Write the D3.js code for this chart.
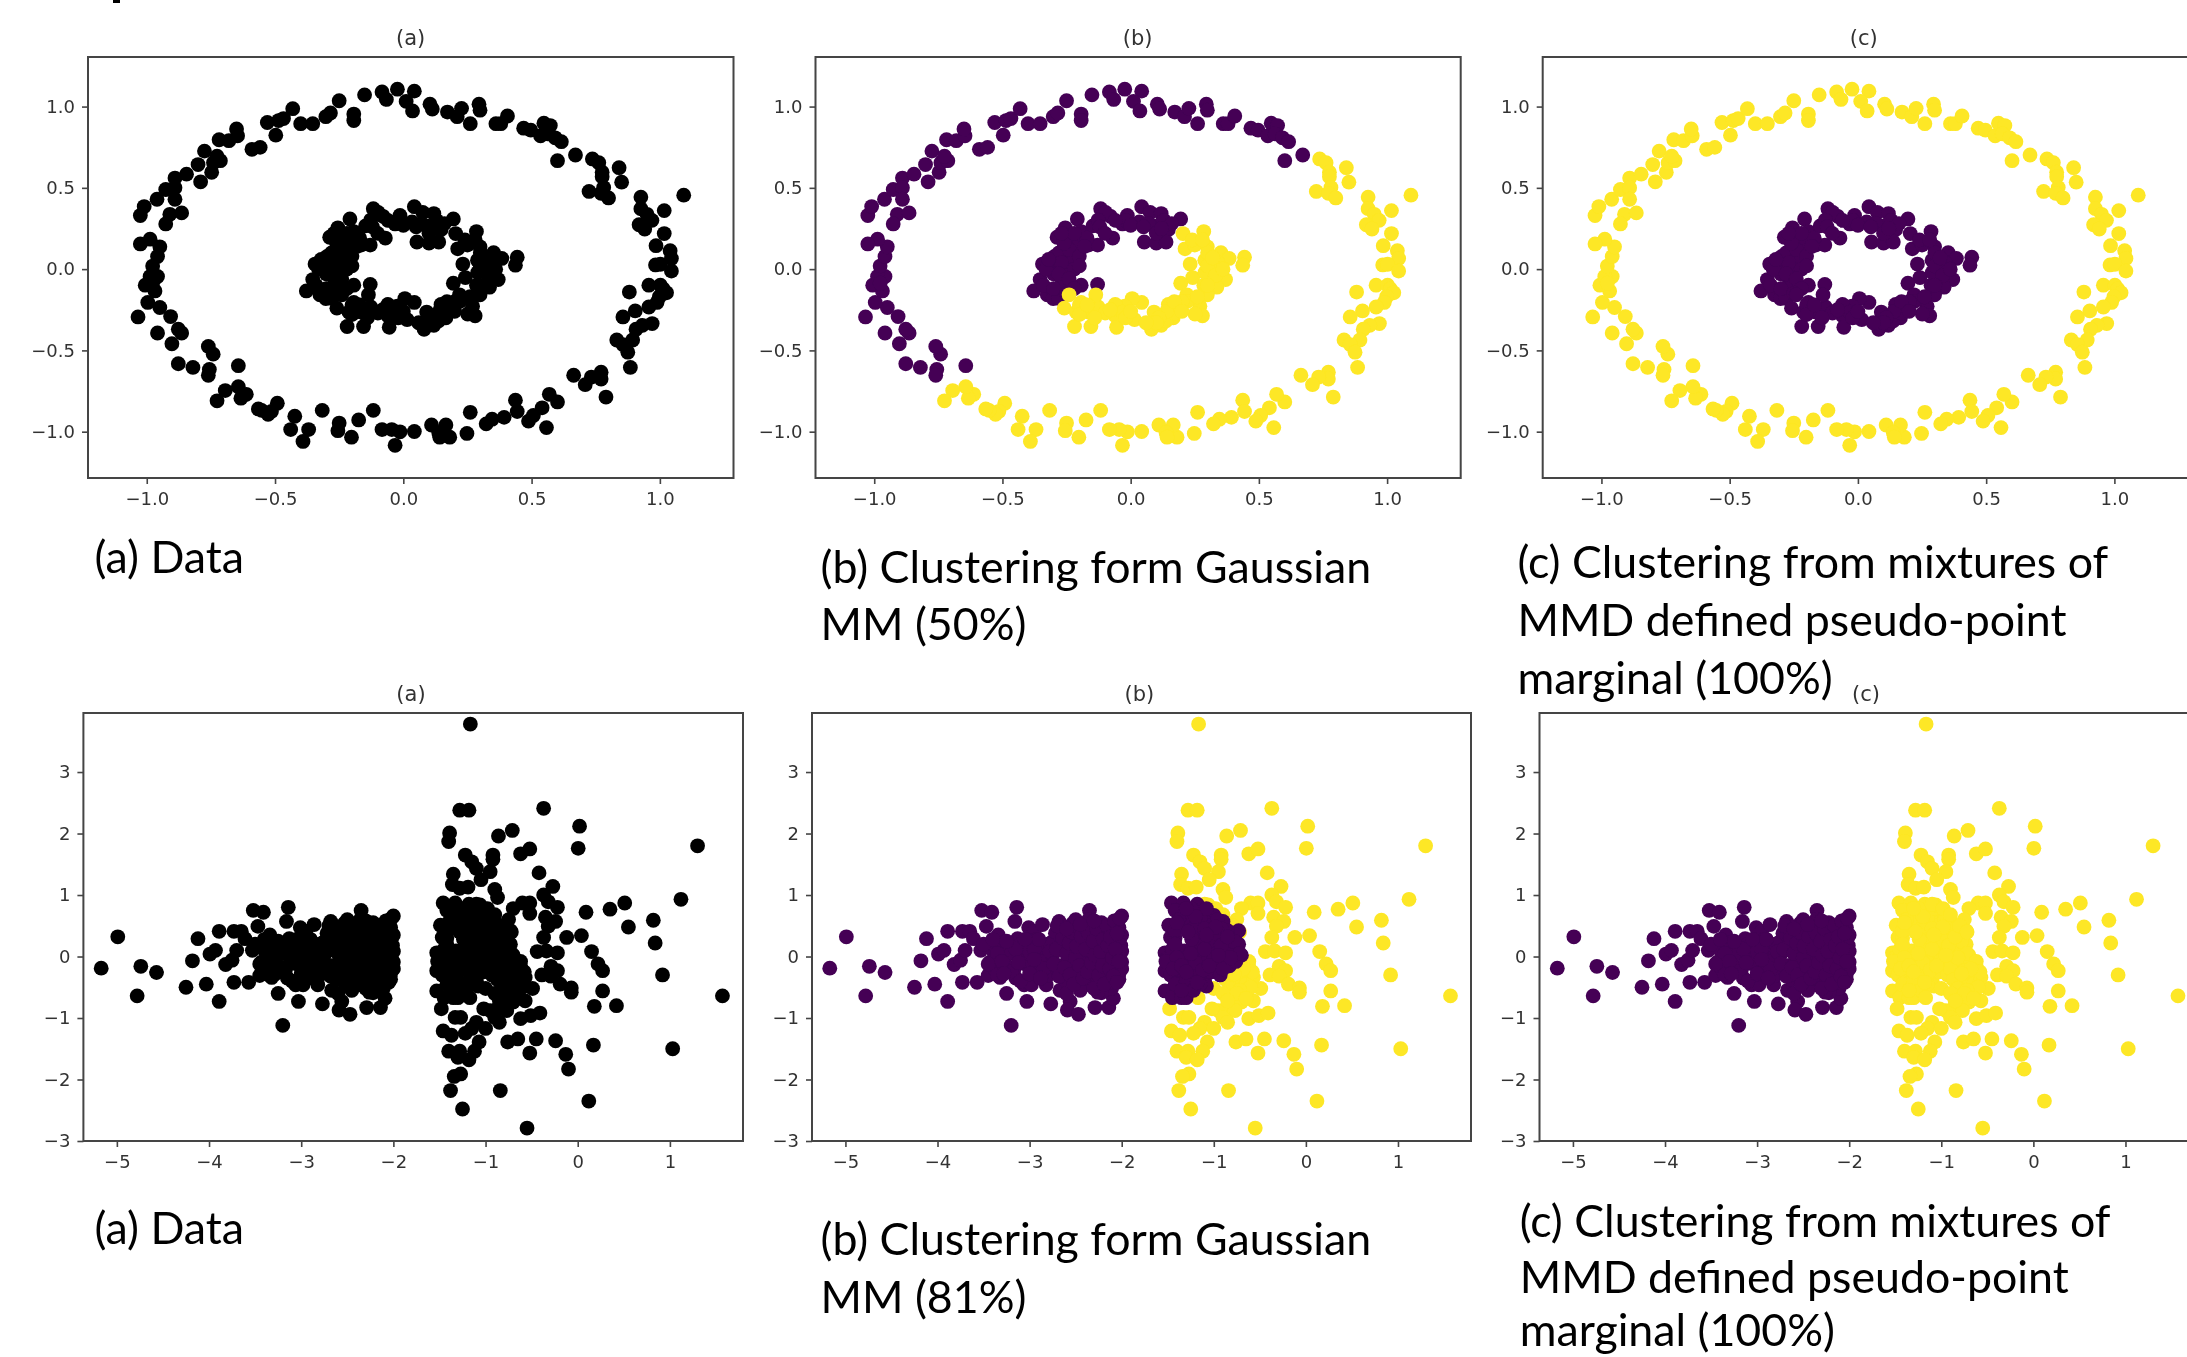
<!DOCTYPE html>
<html>
<head>
<meta charset="utf-8">
<script src="https://cdn.jsdelivr.net/npm/d3@7"></script>
<style>
	html, body { margin: 0; padding: 0; background: #fff; overflow: hidden; }
	.caption { font-family: Lato, sans-serif; font-size: 44.7px; fill: #000; }
	.panel text { font-family: "DejaVu Sans", sans-serif; font-size: 18px; fill: #333; }
	.panel text.title { font-size: 21px; }
</style>
</head>
<body>
<svg id="chart" width="2187" height="1357"></svg>
<script>
// two rings, split the way the gaussian mixture split them in panel (b)
const ringOuterPurple = [[-1.025,.33],[-1.01,.385],[-.96,.43],[-.926,.49],[-.89,.56],[-.89,.50],[-.89,.43],[-.91,.337],[-.864,.346],[-.926,.278],[-.845,.584],[-.79,.537],[-.80,.643],[-.775,.726],[-.747,.596],[-.74,.655],[-.713,.667],[-.726,.695],[-.718,.796],[-.68,.79],[-.646,.82],[-.65,.862],[-.59,.737],[-.558,.749],[-.497,.824],[-.53,.902],[-.486,.914],[-.467,.926],[-.431,.987],[-.40,.895],[-.353,.895],[-.302,.938],[-.284,.961],[-.25,1.036],[-.193,.954],[-.193,.914],[-.151,1.072],[-.083,1.09],[-.066,1.044],[-.023,1.107],[.043,1.095],[.011,1.032],[.036,.973],[.104,1.015],[.113,.985],[.172,.966],[.21,.938],[.227,.989],[.261,.895],[.295,1.015],[.299,.978],[.361,.895],[.38,.895],[.406,.942],[.469,.867],[.497,.855],[.535,.82],[.548,.898],[.573,.883],[.563,.832],[.592,.808],[.616,.784],[.601,.667],[.671,.702],
	[-.643,-.594],[-.756,-.617],[-.76,-.653],[-.741,-.523],[-.76,-.476],[-.82,-.605],[-.877,-.582],[-.902,-.459],[-.864,-.393],[-.877,-.37],[-.958,-.393],[-.907,-.292],[-.949,-.236],[-1.034,-.294],[-.996,-.205],[-.968,-.134],[-1.006,-.099],[-.958,-.045],[-.987,-.045],[-.977,.019],[-.958,.078],[-.949,.137],[-.987,.184],[-1.025,.155],[-.977,-.087]];
const ringOuterYellow = [[.737,.678],[.762,.655],[.775,.596],[.775,.568],[.841,.624],[.851,.535],[.781,.502],[.724,.478],[.771,.466],[.80,.438],[.926,.443],[1.093,.455],[.926,.372],[.95,.337],[.969,.30],[1.017,.36],[.919,.273],[.941,.247],[1.017,.219],[.985,.144],[1.04,.113],[1.045,.066],[.983,.026],[1.002,.03],[1.045,-.012],[.957,-.099],[.881,-.141],[1.002,-.099],[1.013,-.122],[1.026,-.146],[.998,-.17],[.989,-.205],[.957,-.233],[.904,-.257],[.856,-.294],[.97,-.335],[.932,-.346],[.907,-.37],[.894,-.436],[.832,-.436],[.856,-.464],[.875,-.511],[.885,-.605],[.664,-.653],[.771,-.634],[.771,-.676],[.733,-.664],[.709,-.711],[.79,-.787],[.601,-.817],[.569,-.77],[.541,-.853],[.558,-.975],[.437,-.806],[.444,-.876],[.507,-.90],[.488,-.935],[.393,-.912],[.346,-.923],[.323,-.952],[.261,-.881],[.248,-1.011],[.181,-1.034],[.166,-.959],[.11,-.959],[.138,-1.006],[.142,-1.034],[.043,-.999],[-.013,-1.001],[-.045,-.987],[-.083,-.987],[-.032,-1.084],[-.117,-.869],[-.174,-.928],[-.202,-1.034],[-.25,-.947],[-.255,-.994],[-.316,-.869],[-.369,-.987],[-.391,-1.06],[-.439,-.987],[-.423,-.905],[-.491,-.825],[-.514,-.876],[-.527,-.893],[-.552,-.869],[-.565,-.86],[-.612,-.77],[-.633,-.794],[-.643,-.723],[-.694,-.747],[-.726,-.81]];
const ringInnerPurple = [[-.208,.309],[-.255,.254],[-.287,.196],[-.24,.172],[-.193,.231],[-.202,.148],[-.25,.101],[-.297,.078],[-.344,.031],[-.31,.019],[-.353,-.064],[-.378,-.134],[-.325,-.158],[-.302,-.181],[-.268,-.087],[-.259,.007],[-.212,.078],[-.164,.148],[-.129,.148],[-.07,.191],[-.147,.266],[-.117,.372],[-.079,.325],[-.098,.349],[-.127,.302],[-.032,.278],[-.013,.33],[.034,.29],[.043,.384],[.076,.349],[.119,.342],[.091,.266],[.147,.243],[.195,.309],[.053,.167],[.1,.16],[.138,.167],[-.193,-.099],[-.129,-.094],[-.28,.1],[-.23,.05],[-.3,-.03],[-.26,-.1],[-.22,.0],[-.17,.19],[-.12,.26],[-.02,.3],[.07,.28],[.13,.3],[-.34,-.1],[-.28,-.18],
	[-.33,.0],[-.27,.04],[-.24,.12],[-.2,.08],[-.28,-.03],[-.24,-.06],[-.22,-.12],[-.3,-.12],[-.26,.16],[-.22,.22],[-.18,.14],[-.1,.22],[-.06,.3],[.0,.27],[.05,.26],[.1,.22],[.16,.28],[.12,.25],[-.2,.02],[-.32,.06],[-.25,-.15],[-.27,.22]];
const ringInnerYellow = [[-.259,-.24],[-.212,-.264],[-.219,-.353],[-.155,-.353],[-.164,-.264],[-.127,-.233],[-.24,-.158],[-.193,-.205],[.204,.219],[.285,.231],[.212,.125],[.25,.148],[.299,.137],[.232,.031],[.289,.054],[.352,.101],[.384,.066],[.444,.073],[.437,.024],[.355,.007],[.37,-.064],[.336,-.111],[.299,-.158],[.242,-.052],[.195,-.087],[.219,-.158],[.285,-.099],[.27,-.228],[.28,-.287],[.251,-.276],[.147,-.217],[.091,-.264],[.166,-.299],[.119,-.346],[.081,-.37],[.138,-.318],[.043,-.205],[.006,-.181],[-.023,-.228],[-.06,-.217],[-.06,-.287],[.015,-.311],[-.055,-.358],[-.032,-.264],[-.136,-.158],[.24,.18],[.3,.1],[.34,.04],[.29,-.02],[.17,-.27],[.22,-.2],[.14,-.26],[-.1,-.27],[-.2,-.22],
	[.3,.02],[.33,-.04],[.28,.18],[.32,.07],[.26,-.17],[.2,-.2],[.11,-.3],[.1,-.33],[.06,-.33],[.17,-.2],[.2,-.26],[-.02,-.3],[-.08,-.25],[-.2,-.28],[-.17,-.22],[-.14,-.3],[.0,-.26],[.3,-.1],[.36,.0]];

// the two gaussian blobs: left one, right one's core (purple in (b)), and the rest
const blobLeft = [[-5.17,-.19],[-4.99,.32],[-4.74,-.16],[-4.57,-.26],[-4.78,-.64],[-4.25,-.5],[-4.18,-.07],[-4.12,.29],[-4.03,-.45],[-3.99,.04],[-3.93,.1],[-3.89,-.73],[-3.89,.41],[-3.82,-.13],[-3.75,-.06],[-3.73,-.42],[-3.73,.41],[-3.65,.41],[-3.7,.1],[-3.57,-.42],[-3.52,.75],[-3.41,.72],[-3.47,.49],[-3.61,.29],[-3.53,.1],[-3.34,.35],[-3.4,.1],[-3.43,-.09],[-3.45,-.31],[-3.32,-.34],[-3.25,-.6],[-3.2,-1.12],[-3.14,.8],[-3.16,.57],[-3.13,.29],[-3.27,.1],[-3.11,-.02],[-3.17,-.21],[-3.06,-.46],[-3.01,.47],[-2.95,.41],[-2.86,.52],[-2.98,.19],[-2.9,.04],[-2.98,-.15],[-2.98,-.46],[-3.03,-.73],[-2.82,-.46],[-2.77,-.77],[-2.82,-.15],[-2.77,.22],[-2.68,.57],[-2.69,.41],[-2.64,.1],[-2.67,-.15],[-2.67,-.55],[-2.56,-.73],[-2.59,-.87],[-2.47,-.94],[-2.48,-.4],[-2.53,.54],[-2.48,.29],[-2.4,-.02],[-2.35,.75],[-2.35,.54],[-2.32,.22],[-2.27,-.15],[-2.35,-.46],[-2.29,-.83],[-2.23,.47],[-2.17,.1],[-2.19,-.34],[-2.14,-.83],[-2.09,-.68],[-2.0,.66],[-2.03,.47],[-2.0,.35],[-2.01,.1],[-2.0,-.09],[-2.03,-.37],[-2.11,-.52],[-2.22,-.59],
	[-3.3,.22],[-3.25,-.15],[-3.2,.05],[-3.15,-.35],[-3.1,.2],[-3.05,-.12],[-3.0,.08],[-2.95,-.28],[-2.92,.28],[-2.88,-.05],[-2.84,.15],[-2.8,-.3],[-2.75,.02],[-2.72,.38],[-2.7,-.22],[-2.66,.18],[-2.62,-.38],[-2.6,.32],[-2.58,-.05],[-2.55,.5],[-2.52,.12],[-2.5,-.25],[-2.47,.42],[-2.45,-.55],[-2.43,.05],[-2.4,.28],[-2.38,-.15],[-2.36,.6],[-2.34,-.35],[-2.32,.1],[-2.3,.38],[-2.28,-.05],[-2.26,-.58],[-2.24,.2],[-2.22,.55],[-2.2,-.25],[-2.18,.32],[-2.16,-.08],[-2.14,.12],[-2.12,-.42],[-2.1,.45],[-2.08,.22],[-2.06,-.15],[-2.05,.55],[-2.04,.02],[-2.03,-.28],[-2.02,.3],[-2.01,.18],[-2.0,-.2],[-2.0,.08],[-2.6,-.6],[-2.5,.6],[-2.65,.5],[-2.45,.2],[-2.55,-.12],[-2.35,-.02],[-2.15,.4],[-2.25,-.42],[-2.8,.2],[-2.85,-.2],[-2.95,.12],[-3.38,-.2],[-3.35,.05],[-3.5,.2],[-3.45,-.12],[-3.2,-.25],[-3.1,-.4],
	[-2.78,.08],[-2.74,-.12],[-2.71,.12],[-2.68,-.32],[-2.64,.3],[-2.62,-.18],[-2.6,.05],[-2.57,.22],[-2.56,-.3],[-2.54,.4],[-2.52,-.45],[-2.5,-.02],[-2.49,.17],[-2.46,-.15],[-2.44,.33],[-2.42,-.35],[-2.4,.48],[-2.39,.12],[-2.37,-.25],[-2.36,.38],[-2.33,-.1],[-2.31,.25],[-2.3,-.52],[-2.29,.02],[-2.27,.45],[-2.25,-.3],[-2.23,.08],[-2.21,-.15],[-2.2,.28],[-2.19,-.45],[-2.16,.5],[-2.15,.18],[-2.13,-.2],[-2.12,.32],[-2.1,-.02],[-2.09,-.32],[-2.08,.58],[-2.07,.12],[-2.05,.38],[-2.05,-.42],[-2.03,-.08],[-2.02,.62],[-3.0,-.28],[-2.9,.28],[-2.88,-.35],[-3.15,.12],[-3.25,.25],[-3.3,-.08],[-3.05,.28],[-3.12,-.1],[-2.95,-.05],[-3.35,-.3],[-3.4,.28],[-3.28,-.28],[-2.7,.5],[-2.6,.45],[-2.45,.52],[-2.3,.58]];
const blobRightCore = [[-1.46,.87],[-1.33,.87],[-1.18,.85],[-1.23,.67],[-1.35,.67],[-1.49,.51],[-1.47,.31],[-1.35,.49],[-1.0,.67],[-1.1,.57],[-.9,.57],[-.73,.42],[-.95,.35],[-1.15,.28],[-1.23,.13],[-1.32,.09],[-1.53,.06],[-1.48,-.09],[-1.28,-.09],[-1.53,-.23],[-1.35,-.27],[-1.2,-.23],[-1.07,-.09],[-.7,.02],[-.77,.13],[-.87,.13],[-1.0,.17],[-1.07,.2],[-.87,-.09],[-1.0,-.23],[-1.1,-.38],[-1.23,-.45],[-1.35,-.52],[-1.53,-.56],[-1.45,-.67],[-1.35,-.67],[-1.3,-.67],[-.77,.35],[-.85,.42],[-.73,.2],
	[-1.45,.05],[-1.5,-.02],[-1.47,-.3],[-1.42,-.12],[-1.42,-.45],[-1.38,-.2],[-1.33,-.05],[-1.3,-.4],[-1.27,.02],[-1.25,-.18],[-1.22,-.55],[-1.2,.5],[-1.18,.12],[-1.16,-.3],[-1.13,.72],[-1.12,.32],[-1.1,-.05],[-1.08,-.48],[-1.05,.5],[-1.04,.08],[-1.02,-.25],[-1.0,.38],[-.98,-.1],[-.96,.6],[-.95,.15],[-.93,-.3],[-.9,.3],[-.88,.02],[-.85,.22],[-.83,-.15],[-.8,.08],[-.78,.25],[-.76,-.08],[-.72,.05],[-1.28,.6],[-1.25,.78],[-1.15,.62],[-1.08,.78],[-1.42,.75],[-1.38,.6],[-1.45,.12],[-1.52,-.08],[-1.2,-.1],[-1.12,-.22],[-1.05,.28],[-.92,.45],[-1.35,-.55],[-1.15,-.45],[-1.0,-.05],[-.9,-.2],
	[-1.42,.3],[-1.2,.35],[-1.22,.45],[-1.42,.42],[-1.42,.2],[-1.18,.22],[-1.25,.05],[-1.4,-.02],[-1.44,-.2],[-1.35,-.15],[-1.3,-.25],[-1.18,-.42],[-1.1,.45],[-1.1,.12],[-1.05,-.15],[-.97,.25],[-.92,.18],[-.85,.32],[-.82,-.02],[-.95,.02],[-.98,.48],[-1.08,.35],[-1.2,.65],[-1.3,.78],[-1.4,.55],[-1.24,.28],[-1.28,.4]];
const blobRightRest = [[-1.165,3.78],[-1.28,2.38],[-1.18,2.38],[-.37,2.41],[.02,2.12],[.005,1.76],[-1.39,2.01],[-1.4,1.87],[-.86,1.96],[-.71,2.05],[-.92,1.65],[-.92,1.58],[-1.22,1.65],[-1.15,1.54],[-1.1,1.43],[-.95,1.38],[-1.05,1.25],[-.62,1.67],[-.52,1.75],[-.42,1.36],[-1.35,1.34],[-1.36,1.17],[-1.28,1.11],[-1.19,1.13],[-.9,1.09],[-.87,.96],[-.27,1.14],[-.37,1.0],[-.32,.89],[-.22,.8],[-.6,.87],[-.52,.87],[-.7,.78],[-.75,.6],[-.52,.7],[-.35,.64],[-.24,.57],[-.32,.49],[-1.06,.84],[.09,.72],[.35,.77],[.51,.87],[1.12,.93],[1.3,1.8],[.82,.59],[.55,.48],[.84,.22],[-.12,.31],[.04,.34],[-.37,.31],[-.44,.08],[-.34,.09],[-.22,.06],[.15,.08],[.22,-.12],[.27,-.23],[.92,-.3],[1.57,-.64],[-.29,-.16],[-.22,-.23],[-.39,-.3],[-.29,-.32],[-.19,-.45],[-.07,-.51],[-.07,-.58],[-.49,-.52],[.27,-.56],[.18,-.81],[.42,-.8],[-.62,-.16],[-.67,-.3],[-.75,-.38],[-.65,-.45],[-.57,-.34],[-.87,-.38],[-.82,-.52],[-1.0,-.52],[-1.17,-.67],[-1.48,-.85],[-.8,-.67],[-.7,-.74],[-.57,-.72],[-.95,-.88],[-.87,-.85],[-.77,-.88],[-.9,-.99],[-.85,-1.07],[-.62,-1.01],[-.51,-.96],[-.41,-.92],[-1.02,-.85],[-1.33,-.99],[-1.27,-.99],[-1.1,-1.07],[-1.15,-1.17],[-1.22,-1.25],[-1.0,-1.17],[-1.07,-1.39],[-1.46,-1.21],[-1.37,-1.28],[-1.4,-1.54],[-1.28,-1.54],[-1.3,-1.64],[-1.12,-1.54],[-1.18,-1.68],[-1.27,-1.91],[-1.34,-1.95],[-1.38,-2.18],[-1.25,-2.48],[-.84,-2.18],[-.55,-2.79],[-.76,-1.39],[-.65,-1.34],[-.45,-1.34],[-.24,-1.37],[-.52,-1.57],[-.13,-1.59],[-.1,-1.83],[.17,-1.44],[.12,-2.35],[1.03,-1.5],
	[-1.1,.85],[-.98,.78],[-.9,.68],[-.8,.5],[-.72,.4],[-.62,-.08],[-.58,-.25],[-.6,-.5],[-.72,-.55],[-.9,-.6],[-.68,-.2],[-.78,-.28],[-.75,-.6],[-.65,-.68],[-.85,-.72]];

const ringTicks = [-1, -0.5, 0, 0.5, 1];
const blobTicksX = [-5, -4, -3, -2, -1, 0, 1];
const blobTicksY = [-3, -2, -1, 0, 1, 2, 3];

const BLACK = '#000000';
const PURPLE = '#440154';
const YELLOW = '#fde725';
const DOT_R = 7.4;

const svg = d3.select('#chart');

// slightly soft look of the scanned plots
svg.append('defs').append('filter')
	.attr('id', 'soft')
	.append('feGaussianBlur')
	.attr('stdDeviation', 0.55);

function drawPanel(box, xDomain, yDomain, xTicks, yTicks, fmt, title, titlePos, layers) {
	const x = d3.scaleLinear().domain(xDomain).range([box.left, box.right]);
	const y = d3.scaleLinear().domain(yDomain).range([box.bottom, box.top]);

	const g = svg.append('g').attr('class', 'panel').attr('filter', 'url(#soft)');

	layers.forEach(layer => {
		g.append('g').selectAll('circle')
			.data(layer.points)
			.join('circle')
			.attr('cx', d => x(d[0]))
			.attr('cy', d => y(d[1]))
			.attr('r', DOT_R)
			.attr('fill', layer.color);
	});

	const xAxis = d3.axisBottom(x).tickValues(xTicks).tickFormat(fmt).tickSize(6).tickPadding(8);
	const yAxis = d3.axisLeft(y).tickValues(yTicks).tickFormat(fmt).tickSize(6).tickPadding(7);
	g.append('g').attr('transform', `translate(0,${box.bottom})`).call(xAxis);
	g.append('g').attr('transform', `translate(${box.left},0)`).call(yAxis);
	g.selectAll('.domain').remove();
	g.selectAll('.tick line').attr('stroke', '#444').attr('stroke-width', 1.6);

	g.append('rect')
		.attr('x', box.left)
		.attr('y', box.top)
		.attr('width', box.right - box.left)
		.attr('height', box.bottom - box.top)
		.attr('fill', 'none')
		.attr('stroke', '#444')
		.attr('stroke-width', 2);

	g.append('text')
		.attr('class', 'title')
		.attr('x', titlePos[0])
		.attr('y', titlePos[1])
		.attr('text-anchor', 'middle')
		.attr('dominant-baseline', 'middle')
		.text(title);
}

function drawCaption(x, baselines, lines) {
	lines.forEach((line, i) => {
		svg.append('text')
			.attr('class', 'caption')
			.attr('x', x)
			.attr('y', baselines[i])
			.text(line);
	});
}

const ringX = [-1.229, 1.287];
const ringY = [-1.285, 1.305];
const blobX = [-5.363, 1.793];
const blobY = [-3.0, 3.96];
const fmtRing = d3.format('.1f');
const fmtBlob = d3.format('d');
const ringAll = [...ringOuterPurple, ...ringOuterYellow, ...ringInnerPurple, ...ringInnerYellow];
const blobAll = [...blobLeft, ...blobRightCore, ...blobRightRest];

// top row
drawPanel({left: 88, right: 733.5, top: 57, bottom: 478}, ringX, ringY, ringTicks, ringTicks, fmtRing, '(a)', [410.6, 38.5],
	[{points: ringAll, color: BLACK}]);
drawPanel({left: 815.5, right: 1460.7, top: 57, bottom: 478}, ringX, ringY, ringTicks, ringTicks, fmtRing, '(b)', [1137.6, 38.5],
	[{points: [...ringOuterPurple, ...ringInnerPurple], color: PURPLE}, {points: [...ringOuterYellow, ...ringInnerYellow], color: YELLOW}]);
drawPanel({left: 1542.7, right: 2188, top: 57, bottom: 478}, ringX, ringY, ringTicks, ringTicks, fmtRing, '(c)', [1863.7, 38.5],
	[{points: [...ringOuterPurple, ...ringOuterYellow], color: YELLOW}, {points: [...ringInnerPurple, ...ringInnerYellow], color: PURPLE}]);

// bottom row
drawPanel({left: 83.4, right: 743, top: 713, bottom: 1141}, blobX, blobY, blobTicksX, blobTicksY, fmtBlob, '(a)', [411, 694.5],
	[{points: blobAll, color: BLACK}]);
drawPanel({left: 812, right: 1471, top: 713, bottom: 1141}, blobX, blobY, blobTicksX, blobTicksY, fmtBlob, '(b)', [1139.4, 694.5],
	[{points: blobRightRest, color: YELLOW}, {points: [...blobLeft, ...blobRightCore], color: PURPLE}]);
drawPanel({left: 1539.5, right: 2198.5, top: 713, bottom: 1141}, blobX, blobY, blobTicksX, blobTicksY, fmtBlob, '(c)', [1866, 694.5],
	[{points: [...blobRightCore, ...blobRightRest], color: YELLOW}, {points: blobLeft, color: PURPLE}]);

drawCaption(94.5, [573], ['(a) Data']);
drawCaption(820.5, [583, 640], ['(b) Clustering form Gaussian', 'MM (50%)']);
drawCaption(1517.4, [578, 636, 694], ['(c) Clustering from mixtures of', 'MMD defined pseudo-point', 'marginal (100%)']);
drawCaption(94.5, [1244], ['(a) Data']);
drawCaption(820.5, [1255, 1313], ['(b) Clustering form Gaussian', 'MM (81%)']);
drawCaption(1519.7, [1237, 1293, 1346], ['(c) Clustering from mixtures of', 'MMD defined pseudo-point', 'marginal (100%)']);

// bit of the cut-off line above the figure
svg.append('rect').attr('x', 113).attr('y', 0).attr('width', 7).attr('height', 3).attr('fill', '#000');
</script>
</body>
</html>
